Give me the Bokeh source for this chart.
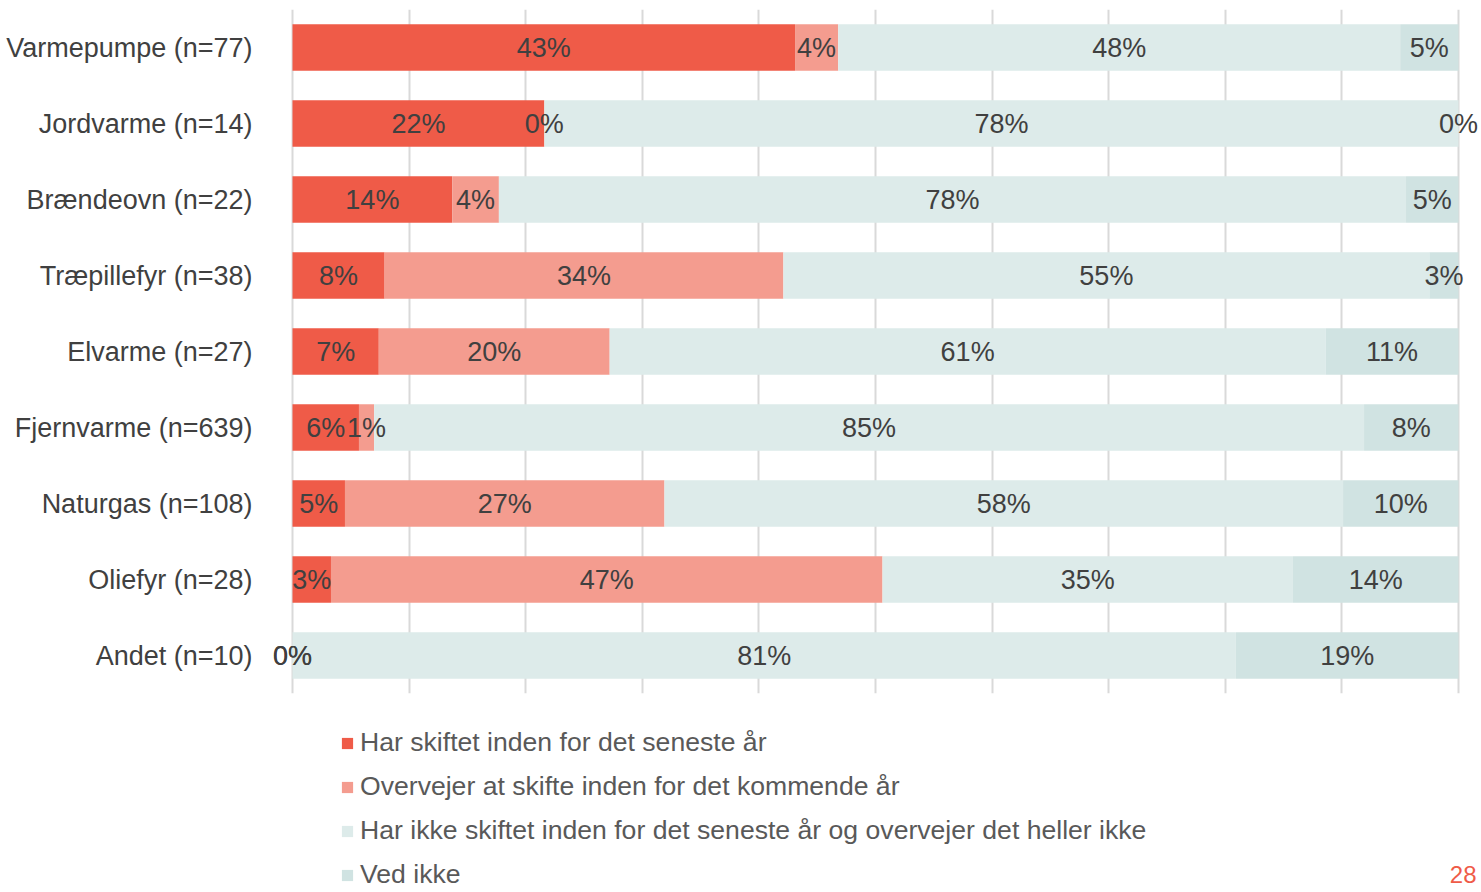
from bokeh.plotting import figure
from bokeh.layouts import column
from bokeh.models import (FactorRange, Range1d, Legend, LegendItem, ColumnDataSource,
                          FixedTicker, Label, LabelSet)
from bokeh.embed import file_html
from bokeh.resources import INLINE
from bokeh.core.properties import value

categories = ["Varmepumpe (n=77)", "Jordvarme (n=14)", "Brændeovn (n=22)",
              "Træpillefyr (n=38)", "Elvarme (n=27)", "Fjernvarme (n=639)",
              "Naturgas (n=108)", "Oliefyr (n=28)", "Andet (n=10)"]
har_skiftet = [43.1, 21.6, 13.7, 7.9, 7.4, 5.7, 4.5, 3.3, 0.0]
overvejer = [3.7, 0.0, 4.0, 34.2, 19.8, 1.3, 27.4, 47.3, 0.0]
har_ikke = [48.2, 78.4, 77.8, 55.4, 61.4, 84.9, 58.2, 35.2, 80.9]
ved_ikke = [5.0, 0.0, 4.5, 2.5, 11.4, 8.1, 9.9, 14.2, 19.1]
series_names = ["Har skiftet inden for det seneste år",
                "Overvejer at skifte inden for det kommende år",
                "Har ikke skiftet inden for det seneste år og overvejer det heller ikke",
                "Ved ikke"]
colors = ["#EF5B48", "#F49C8F", "#DDEBEA", "#D0E3E2"]
x_ticks = [0, 10, 20, 30, 40, 50, 60, 70, 80, 90, 100]
page_number = "28"

FONT = "Liberation Sans"
W = 1478
keys = ["s1", "s2", "s3", "s4"]
series = [har_skiftet, overvejer, har_ikke, ved_ikke]
data = {"cat": categories}
for k, s in zip(keys, series):
    data[k] = s
source = ColumnDataSource(data)

# frame is a little wider than 0..100 so that edge labels are not clipped
p = figure(width=W, height=700,
           y_range=FactorRange(factors=categories[::-1], range_padding=0),
           x_range=Range1d(-1.9726, 101.715),
           output_backend="svg", toolbar_location=None,
           min_border_left=269, min_border_right=0,
           min_border_top=9, min_border_bottom=7)
p.outline_line_color = None

p.xaxis.visible = False
p.xaxis.ticker = FixedTicker(ticks=x_ticks)
p.xgrid.ticker = FixedTicker(ticks=x_ticks)
p.xgrid.grid_line_color = "#D9D9D9"
p.xgrid.grid_line_width = 2
p.ygrid.visible = False

p.yaxis.axis_line_color = None
p.yaxis.major_tick_line_color = None
p.yaxis.minor_tick_line_color = None
p.yaxis.major_tick_out = 0
p.yaxis.major_tick_in = 0
p.yaxis.major_label_standoff = 17
p.yaxis.major_label_text_font = FONT
p.yaxis.major_label_text_font_size = "27px"
p.yaxis.major_label_text_color = "#404040"

renderers = p.hbar_stack(keys, y="cat", height=0.61, color=colors, line_color=None,
                         source=source)

# data labels centred in each segment
lx, ly, lt = [], [], []
for i, cat in enumerate(categories):
    start = 0.0
    for s in series:
        v = s[i]
        lx.append(start + v / 2.0)
        ly.append(cat)
        lt.append(f"{int(v + 0.5)}%")
        start += v
labels = LabelSet(x="x", y="y", text="t", source=ColumnDataSource(dict(x=lx, y=ly, t=lt)),
                  text_align="center", text_baseline="middle",
                  text_font=value(FONT), text_font_size="27px", text_color="#404040")
p.add_layout(labels)

# legend panel below the chart (its frame is aligned with the chart frame)
p2 = figure(width=W, height=190, x_range=Range1d(0, 1), y_range=Range1d(0, 1),
            output_backend="svg", toolbar_location=None,
            min_border_left=0, min_border_right=0, min_border_top=0, min_border_bottom=0)
p2.outline_line_color = None
p2.axis.visible = False
p2.grid.visible = False
dummies = [p2.rect(x=[-5], y=[-5], width=0.1, height=0.1, color=c, line_color=None)
           for c in colors]
items = [LegendItem(label=n, renderers=[r]) for n, r in zip(series_names, dummies)]
legend = Legend(items=items, location=(71, 0), orientation="vertical",
                glyph_width=14, glyph_height=14, label_height=14, spacing=13,
                label_standoff=6, padding=0, margin=0,
                border_line_color=None, background_fill_alpha=0,
                label_text_font=FONT, label_text_font_size="26.6px",
                label_text_color="#595959")
p2.add_layout(legend, "center")

p2.add_layout(Label(x=1207, y=16, x_units="screen", y_units="screen", text=page_number,
                    text_font=FONT, text_font_size="24px", text_color="#EF5B48",
                    text_baseline="middle", text_align="right"))

layout = column(p, p2, spacing=0)
open("out.html", "w").write(file_html(layout, INLINE))
